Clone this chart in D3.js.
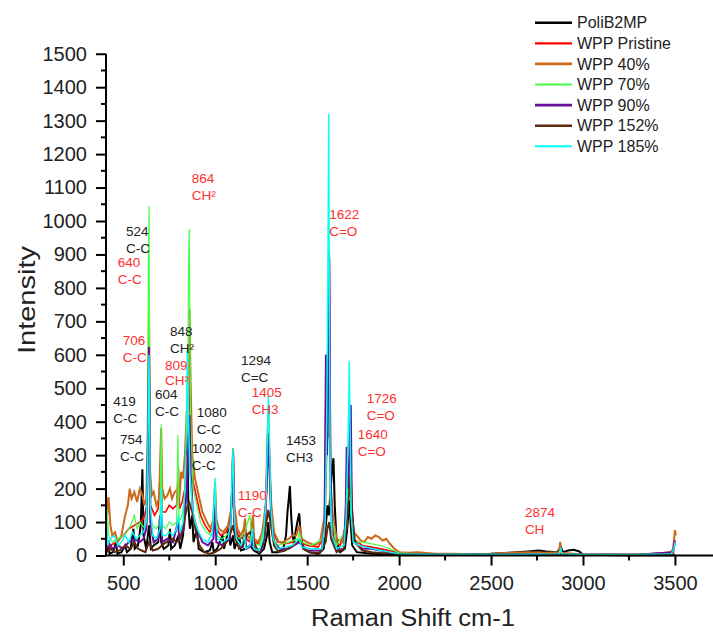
<!DOCTYPE html>
<html><head><meta charset="utf-8">
<script src="https://cdn.jsdelivr.net/npm/d3@7/dist/d3.min.js"></script>
<style>
html,body{margin:0;padding:0;background:#fff;}
svg{display:block;font-family:"Liberation Sans",Arial,sans-serif;}
</style></head>
<body><svg id="chart" width="713" height="632"></svg>
<script>
// ---------- DATA ----------
const seriesNames = ["PoliB2MP","WPP Pristine","WPP 40%","WPP 70%","WPP 90%","WPP 152%","WPP 185%"];
const seriesColors = ["#000000","#ff0000","#cc6a1c","#44ff44","#6a0f9a","#5e2a10","#00ffff"];
const seriesWidths = [2,1.6,2,1.2,2,2,1.4];

const xTicks = [500,1000,1500,2000,2500,3000,3500];
const yTicks = [0,100,200,300,400,500,600,700,800,900,1000,1100,1200,1300,1400,1500];

const poliB2MP = [[406,5],[420,30],[425,5],[445,10],[460,40],[468,5],[490,10],[510,30],[520,10],[540,20],[555,80],[562,20],[580,30],[595,90],[604,258],[610,60],[625,20],[640,90],[650,20],[665,30],[690,40],[700,120],[706,40],[720,20],[745,30],[754,80],[760,20],[780,30],[800,60],[810,20],[825,60],[835,150],[842,250],[848,360],[854,150],[862,80],[875,120],[882,40],[900,80],[910,20],[940,10],[970,15],[985,40],[992,10],[1010,20],[1040,60],[1048,20],[1075,80],[1082,30],[1097,60],[1105,20],[1130,60],[1140,15],[1165,20],[1190,30],[1210,15],[1240,5],[1265,20],[1282,60],[1289,100],[1296,40],[1310,10],[1340,10],[1370,20],[1385,60],[1393,130],[1400,170],[1406,208],[1413,120],[1420,60],[1428,40],[1440,80],[1450,110],[1457,126],[1465,60],[1480,20],[1510,10],[1560,5],[1590,20],[1600,80],[1610,150],[1618,120],[1628,200],[1636,260],[1643,291],[1650,150],[1660,40],[1680,10],[1705,20],[1718,80],[1725,130],[1730,165],[1736,100],[1745,30],[1770,10],[1850,5],[2000,2],[2300,2],[2500,5],[2600,8],[2700,12],[2760,15],[2800,12],[2860,10],[2880,25],[2890,10],[2920,15],[2950,17],[2980,12],[3000,2],[3200,1],[3500,1]];

const wppPristine = [[406,20],[430,30],[460,40],[500,60],[530,80],[560,90],[590,100],[610,110],[630,150],[640,600],[648,150],[670,120],[690,140],[706,300],[712,130],[730,130],[750,150],[770,140],[790,150],[800,260],[806,140],[820,160],[835,200],[845,300],[852,280],[860,600],[868,350],[880,220],[900,170],[920,120],[945,90],[970,70],[990,90],[999,196],[1006,80],[1030,60],[1060,70],[1085,110],[1097,320],[1104,110],[1125,60],[1150,50],[1162,90],[1170,50],[1190,40],[1205,80],[1212,40],[1240,35],[1265,80],[1280,200],[1289,400],[1298,200],[1315,70],[1340,40],[1380,35],[1420,40],[1460,40],[1500,30],[1560,25],[1595,60],[1610,400],[1620,913],[1628,200],[1645,50],[1680,30],[1715,100],[1728,300],[1736,200],[1750,50],[1800,30],[1850,25],[1900,20],[2000,8],[2200,4],[2500,4],[2800,5],[3000,3],[3300,3],[3490,10],[3500,40]];

const wpp40 = [[406,185],[412,120],[420,175],[430,90],[440,60],[455,70],[470,40],[490,60],[510,120],[525,150],[535,200],[545,170],[560,190],[575,160],[590,200],[604,180],[615,150],[625,170],[632,330],[640,737],[646,250],[655,180],[665,190],[680,150],[695,170],[706,380],[712,200],[725,170],[740,180],[754,200],[765,170],[780,190],[797,200],[805,170],[815,250],[825,230],[835,300],[845,430],[852,380],[860,737],[866,520],[875,300],[890,230],[910,180],[930,130],[955,100],[975,80],[990,110],[999,220],[1006,110],[1020,80],[1045,70],[1070,90],[1090,150],[1097,320],[1104,150],[1120,80],[1140,60],[1155,80],[1162,110],[1170,60],[1190,50],[1205,120],[1212,50],[1235,40],[1255,70],[1275,150],[1284,360],[1289,425],[1295,300],[1305,150],[1320,70],[1345,40],[1370,40],[1400,50],[1420,60],[1440,60],[1457,90],[1470,50],[1500,40],[1540,30],[1570,40],[1595,120],[1605,600],[1612,350],[1620,500],[1628,200],[1640,120],[1660,50],[1690,40],[1710,80],[1722,217],[1730,300],[1740,150],[1750,70],[1770,60],[1790,45],[1810,40],[1830,55],[1850,50],[1870,60],[1890,55],[1910,45],[1930,50],[1950,35],[1975,20],[2000,10],[2050,8],[2100,10],[2200,5],[2300,5],[2400,3],[2500,5],[2600,8],[2700,10],[2800,8],[2870,10],[2876,41],[2882,8],[2950,5],[3000,3],[3100,3],[3200,3],[3300,3],[3400,4],[3470,5],[3490,20],[3500,76],[3505,60]];

const wpp70 = [[406,90],[412,140],[420,60],[440,40],[470,50],[500,60],[520,70],[540,90],[560,120],[575,80],[590,100],[604,90],[620,80],[632,100],[636,845],[640,1045],[645,120],[660,90],[680,80],[700,100],[706,392],[712,90],[730,80],[750,100],[770,90],[790,100],[797,360],[803,100],[820,120],[840,200],[850,300],[855,874],[859,975],[866,400],[880,200],[900,150],[920,100],[950,70],[980,60],[999,180],[1006,60],[1040,50],[1080,70],[1097,280],[1104,70],[1130,50],[1160,70],[1189,121],[1196,40],[1240,30],[1270,90],[1284,300],[1289,420],[1296,200],[1310,60],[1340,30],[1400,40],[1450,50],[1457,70],[1470,40],[1520,30],[1590,50],[1605,300],[1617,500],[1625,150],[1660,30],[1715,80],[1729,400],[1738,120],[1760,40],[1800,40],[1850,35],[1900,30],[1950,20],[2000,8],[2100,5],[2300,4],[2600,4],[3000,3],[3300,3],[3490,8],[3500,30]];

const wpp90 = [[406,20],[420,40],[440,20],[470,30],[500,20],[530,40],[560,50],[590,40],[610,50],[625,80],[633,300],[640,623],[647,100],[665,40],[690,50],[706,120],[712,40],[740,50],[770,40],[797,100],[805,50],[830,80],[845,200],[852,300],[860,420],[866,250],[880,120],[900,80],[930,40],[960,30],[990,50],[999,150],[1006,40],[1040,30],[1080,50],[1092,200],[1097,310],[1103,100],[1120,40],[1150,25],[1162,60],[1170,20],[1200,30],[1205,70],[1212,20],[1250,15],[1270,60],[1282,250],[1289,366],[1296,250],[1305,100],[1320,40],[1350,20],[1400,20],[1457,40],[1500,15],[1580,15],[1595,100],[1602,600],[1608,300],[1614,500],[1620,890],[1626,300],[1635,60],[1660,15],[1700,20],[1710,150],[1715,325],[1722,200],[1730,300],[1737,450],[1743,150],[1755,40],[1800,20],[1850,20],[1900,15],[1950,8],[2000,4],[2300,2],[2700,3],[3000,2],[3300,2],[3490,10],[3500,45]];

const wpp152 = [[406,10],[430,20],[450,10],[480,15],[510,30],[540,20],[560,40],[580,20],[600,15],[620,10],[640,40],[660,15],[690,20],[720,35],[750,45],[770,50],[790,40],[810,50],[830,100],[845,140],[860,157],[875,130],[895,70],[915,30],[940,10],[970,5],[1000,10],[1030,20],[1060,40],[1085,70],[1097,90],[1110,50],[1130,20],[1150,30],[1170,60],[1190,70],[1210,40],[1235,10],[1260,30],[1275,90],[1289,136],[1303,90],[1320,30],[1345,10],[1380,15],[1420,30],[1440,40],[1457,45],[1480,20],[1520,8],[1570,8],[1600,40],[1610,80],[1620,100],[1630,50],[1660,10],[1700,20],[1715,100],[1730,200],[1737,240],[1745,120],[1760,40],[1800,15],[1850,10],[1950,5],[2200,2],[2600,2],[3000,2],[3300,2],[3500,3]];

const wpp185 = [[406,60],[410,100],[415,30],[430,50],[450,60],[470,30],[490,40],[510,60],[530,40],[550,70],[570,50],[590,60],[610,70],[625,100],[633,300],[640,600],[647,150],[660,60],[680,50],[700,80],[706,200],[712,60],[730,60],[750,70],[770,60],[790,80],[800,120],[810,70],[825,100],[835,200],[842,350],[848,615],[855,400],[862,250],[875,150],[890,100],[910,70],[930,50],[960,40],[985,70],[993,150],[999,232],[1005,100],[1015,50],[1040,40],[1070,50],[1085,100],[1092,250],[1097,320],[1103,120],[1115,50],[1140,30],[1160,60],[1166,20],[1190,30],[1203,80],[1210,20],[1240,15],[1260,50],[1275,150],[1282,300],[1289,477],[1295,350],[1302,150],[1315,50],[1340,20],[1380,25],[1420,30],[1457,50],[1470,25],[1520,20],[1580,20],[1598,100],[1606,400],[1612,800],[1617,1320],[1621,700],[1626,200],[1635,60],[1660,20],[1700,30],[1712,120],[1720,300],[1726,450],[1729,582],[1733,400],[1740,120],[1750,40],[1780,30],[1820,25],[1860,20],[1900,15],[1950,10],[2000,5],[2200,3],[2600,3],[2870,5],[2879,20],[2885,5],[3000,3],[3300,3],[3480,5],[3495,20],[3500,40]];

const allSeries = [poliB2MP, wppPristine, wpp40, wpp70, wpp90, wpp152, wpp185];

// annotations
const annoText = [
 ["864","CH²"],["524","C-C"],["640","C-C"],["706","C-C"],["848","CH²"],["809","CH²"],
 ["1294","C=C"],["1405","CH3"],["419","C-C"],["604","C-C"],["1080","C-C"],["754","C-C"],
 ["1002","C-C"],["1453","CH3"],["1190","C-C"],["1622","C=O"],["1726","C=O"],["1640","C=O"],["2874","CH"]
];
const annoColor = ["r","k","r","r","k","r","k","r","k","k","k","k","k","k","r","r","r","r","r"];
// anchor (wavenumber, intensity) of the first line's baseline-left
const annoPos = [[872,1114],[515,955],[470,863],[497,629],[754,656],[727,556],[1140,570],[1198,475],[446,447],[672,468],[899,415],[482,332],[872,307],[1385,330],[1122,166],[1620,1005],[1824,455],[1775,347],[2684,116]];
const annoGap = [17,17,17,17,17,15.5,17,17,17,17,17,17,17,17,17,17,17,17,17];

// ---------- CHART ----------
const svg = d3.select("#chart");
const x = d3.scaleLinear().domain([406, 3707]).range([106, 713]);
const y = d3.scaleLinear().domain([0, 1500]).range([555.5, 53.75]);

const line = d3.line().x(d => x(d[0])).y(d => y(d[1]));

const plot = svg.append("g");
allSeries.forEach((s, i) => {
  plot.append("path").datum(s).attr("d", line)
    .attr("fill", "none").attr("stroke", seriesColors[i])
    .attr("stroke-width", seriesWidths[i]).attr("stroke-linejoin", "miter");
});

// annotations
const ag = svg.append("g").attr("font-size", 13.5);
annoText.forEach((t, i) => {
  const px = x(annoPos[i][0]), py = y(annoPos[i][1]);
  const col = annoColor[i] === "r" ? "#ff3030" : "#222";
  const txt = ag.append("text").attr("x", px).attr("y", py).attr("fill", col);
  txt.append("tspan").attr("x", px).text(t[0]);
  txt.append("tspan").attr("x", px).attr("dy", annoGap[i]).text(t[1]);
});

// axes
const xAxis = d3.axisBottom(x).tickValues(xTicks).tickSize(10).tickPadding(10).tickFormat(d3.format("d"));
const gx = svg.append("g").attr("transform", `translate(0,${y(0)})`).call(xAxis);
gx.select(".domain").attr("stroke-width", 2).attr("d", `M106,0H713`);
gx.selectAll(".tick line").attr("stroke-width", 2);
gx.selectAll("text").attr("font-size", 20).attr("fill", "#222").attr("font-family", "Liberation Sans, Arial, sans-serif");
const xMinor = d3.range(750, 3707, 500);
gx.selectAll(".minor").data(xMinor).enter().append("line")
  .attr("x1", d => x(d)).attr("x2", d => x(d)).attr("y1", 0).attr("y2", 5)
  .attr("stroke", "#000").attr("stroke-width", 2);

const yAxis = d3.axisLeft(y).tickValues(yTicks).tickSize(10).tickPadding(9).tickFormat(d3.format("d"));
const gy = svg.append("g").attr("transform", `translate(106,0)`).call(yAxis);
gy.select(".domain").attr("stroke-width", 2).attr("d", `M0,${y(1500)}V${y(0)}`);
gy.selectAll(".tick line").attr("stroke-width", 2);
gy.selectAll("text").attr("font-size", 20).attr("fill", "#222").attr("font-family", "Liberation Sans, Arial, sans-serif");
const yMinor = d3.range(50, 1500, 100);
gy.selectAll(".minor").data(yMinor).enter().append("line")
  .attr("x1", 0).attr("x2", -5).attr("y1", d => y(d)).attr("y2", d => y(d))
  .attr("stroke", "#000").attr("stroke-width", 2);

// axis titles
svg.append("text").attr("x", 413).attr("y", 626).attr("text-anchor", "middle")
  .attr("font-size", 23).attr("textLength", 204).attr("lengthAdjust", "spacingAndGlyphs")
  .attr("fill", "#222").text("Raman Shift cm-1");
svg.append("text").attr("transform", "translate(35,300) rotate(-90)").attr("text-anchor", "middle")
  .attr("font-size", 24).attr("textLength", 108).attr("lengthAdjust", "spacingAndGlyphs")
  .attr("fill", "#222").text("Intensity");

// legend
const lg = svg.append("g");
seriesNames.forEach((n, i) => {
  const ly = 22.7 + i * 20.6;
  lg.append("line").attr("x1", 535).attr("x2", 572).attr("y1", ly).attr("y2", ly)
    .attr("stroke", seriesColors[i]).attr("stroke-width", seriesWidths[i] + 0.6);
  lg.append("text").attr("x", 577).attr("y", ly).attr("dy", "0.36em")
    .attr("font-size", 16).attr("fill", "#222").text(n);
});
</script>
</body></html>
